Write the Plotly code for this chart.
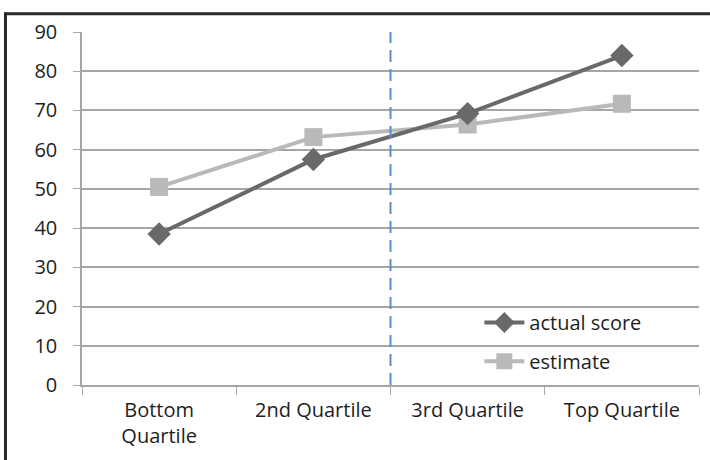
import plotly.graph_objects as go

categories = ["Bottom<br>Quartile", "2nd Quartile", "3rd Quartile", "Top Quartile"]
actual_score = [38.5, 57.5, 69.2, 84.0]
estimate = [50.5, 63.2, 66.4, 71.7]
y_ticks = [0, 10, 20, 30, 40, 50, 60, 70, 80, 90]
divider_position = 1.5

FONT = "Open Sans, Liberation Sans, sans-serif"
TXT = "#1e1e1e"

fig = go.Figure()
fig.add_trace(go.Scatter(
    x=categories, y=estimate, name="estimate", mode="lines+markers",
    line=dict(color="#b9b9b9", width=4),
    marker=dict(symbol="square", size=18, color="#b9b9b9"),
    legend="legend2",
))
fig.add_trace(go.Scatter(
    x=categories, y=actual_score, name="actual score", mode="lines+markers",
    line=dict(color="#696969", width=4),
    marker=dict(symbol="diamond", size=18, color="#696969"),
    legend="legend",
))

# dashed divider
fig.add_shape(type="line", xref="x", yref="paper", x0=divider_position, x1=divider_position,
              y0=0, y1=1.0, line=dict(color="#5b8ed0", width=2, dash="12px,7px"))

# outer frame (left and top edges visible inside the image), pixel coordinates via paper
fig.add_shape(type="line", xref="paper", yref="paper", x0=-0.1240, x1=-0.1240, y0=-0.5, y1=1.055,
              line=dict(color="#2a2a2a", width=3), layer="above")
fig.add_shape(type="line", xref="paper", yref="paper", x0=-0.1265, x1=1.02, y0=1.052, y1=1.052,
              line=dict(color="#2a2a2a", width=3), layer="above")

fig.update_layout(
    width=710, height=460,
    margin=dict(l=82, r=11, t=32, b=75),
    paper_bgcolor="white", plot_bgcolor="white",
    font=dict(family=FONT, size=20, color=TXT),
    showlegend=True,
    legend=dict(x=0.644, y=0.177, xanchor="left", yanchor="middle",
                bgcolor="rgba(0,0,0,0)", font=dict(size=20, color=TXT),
                itemwidth=40),
    legend2=dict(x=0.644, y=0.067, xanchor="left", yanchor="middle",
                 bgcolor="rgba(0,0,0,0)", font=dict(size=20, color=TXT),
                 itemwidth=40),
)
fig.update_xaxes(
    type="category", tickson="boundaries", ticks="outside", ticklen=8,
    tickcolor="#a6a6a6", showline=True, linecolor="#a6a6a6", linewidth=1.5,
    showgrid=False, range=[-0.5, 3.5], tickfont=dict(size=20, color=TXT),
    ticklabelstandoff=6,
)
fig.update_yaxes(
    range=[0, 90], tickvals=y_ticks, ticks="outside", ticklen=7,
    tickcolor="#a6a6a6", showline=True, linecolor="#a6a6a6", linewidth=1.5,
    showgrid=True, gridcolor="#a6a6a6", gridwidth=1.5, zeroline=False,
    tickfont=dict(size=20, color=TXT), ticklabelstandoff=12,
)

fig.write_html("out.html", config={"displayModeBar": False},
               post_script="document.body.style.margin='0';")
